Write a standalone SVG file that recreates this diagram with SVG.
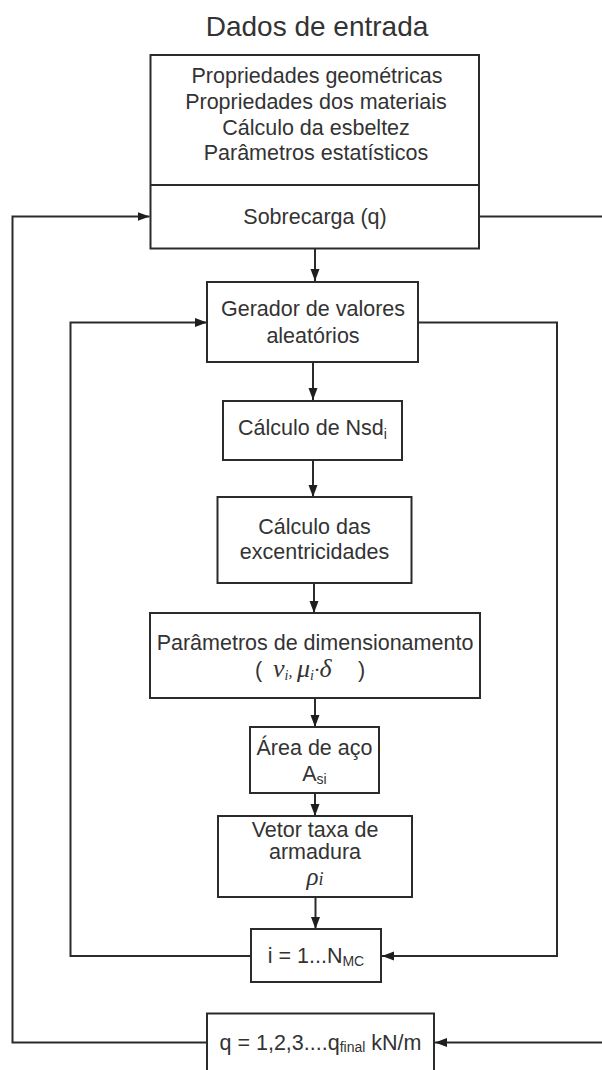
<svg xmlns="http://www.w3.org/2000/svg" width="602" height="1070" viewBox="0 0 602 1070">
<defs>
<style>
.box{fill:#fff;stroke:#2b2b2b;stroke-width:2}
.ln{fill:none;stroke:#2b2b2b;stroke-width:2}
text{font-family:"Liberation Sans",Arial,sans-serif;font-size:21.5px;fill:#333;text-anchor:middle}
.m{font-family:"Liberation Serif","DejaVu Serif",serif;font-style:italic}
.sub{font-size:14px}
</style>
<marker id="ah" markerWidth="13" markerHeight="10" refX="12" refY="4.5" orient="auto" markerUnits="userSpaceOnUse">
<path d="M0,0 L12,4.5 L0,9 z" fill="#1e1e1e"/>
</marker>
</defs>
<rect width="602" height="1070" fill="#fff"/>
<text x="317" y="36" style="font-size:28px">Dados de entrada</text>

<g id="connectors">
<line class="ln" x1="315" y1="248" x2="315" y2="281" marker-end="url(#ah)"/>
<line class="ln" x1="313" y1="362" x2="313" y2="400" marker-end="url(#ah)"/>
<line class="ln" x1="313" y1="460" x2="313" y2="497" marker-end="url(#ah)"/>
<line class="ln" x1="314" y1="583" x2="314" y2="613" marker-end="url(#ah)"/>
<line class="ln" x1="315" y1="698" x2="315" y2="727" marker-end="url(#ah)"/>
<line class="ln" x1="315" y1="793" x2="315" y2="816" marker-end="url(#ah)"/>
<line class="ln" x1="315.5" y1="897" x2="315.5" y2="929" marker-end="url(#ah)"/>
<polyline class="ln" points="251,956 70.5,956 70.5,322.5 207,322.5" marker-end="url(#ah)"/>
<polyline class="ln" points="418,322.5 557,322.5 557,956 382,956" marker-end="url(#ah)"/>
<polyline class="ln" points="207,1042.5 12.5,1042.5 12.5,216.5 149.5,216.5" marker-end="url(#ah)"/>
<polyline class="ln" points="479,216.5 608,216.5 608,1042.5 435,1042.5" marker-end="url(#ah)"/>
</g>

<g id="dados">
<rect class="box" x="150.5" y="55" width="328.5" height="193.5"/>
<line class="ln" x1="150.5" y1="185" x2="479" y2="185"/>
<text x="317" y="83">Propriedades  geométricas</text>
<text x="316" y="109">Propriedades dos materiais</text>
<text x="316" y="135">Cálculo da esbeltez</text>
<text x="316" y="160">Parâmetros estatísticos</text>
<text x="315" y="224">Sobrecarga (q)</text>
</g>

<g id="gerador">
<rect class="box" x="207" y="282" width="211" height="80"/>
<text x="313" y="315.5">Gerador de valores</text>
<text x="313" y="342.5">aleatórios</text>
</g>

<g id="nsd">
<rect class="box" x="223" y="401" width="179" height="59"/>
<text x="312.5" y="435">Cálculo de Nsd<tspan class="sub" dy="4">i</tspan></text>
</g>

<g id="excentricidades">
<rect class="box" x="217.5" y="497" width="194" height="86"/>
<text x="314.5" y="533.5">Cálculo das</text>
<text x="314.5" y="558.5">excentricidades</text>
</g>

<g id="parametros">
<rect class="box" x="150" y="613" width="330" height="85"/>
<text x="315" y="649.5">Parâmetros de dimensionamento</text>
<text y="677" style="text-anchor:start"><tspan x="255">(</tspan><tspan class="m" x="273" style="font-size:26px">ν</tspan><tspan class="m sub" dy="3">i</tspan><tspan class="m" dy="-3" style="font-size:16px">,</tspan><tspan class="m" x="297" style="font-size:26px">μ</tspan><tspan class="m sub" dy="3">i</tspan><tspan class="m" dy="-3" style="font-size:22px">·</tspan><tspan class="m" style="font-size:26px">δ</tspan><tspan x="358">)</tspan></text>
</g>

<g id="area">
<rect class="box" x="250" y="727" width="129" height="66"/>
<text x="314.5" y="754.5">Área de aço</text>
<text x="314.5" y="780.5">A<tspan class="sub" dy="3">si</tspan></text>
</g>

<g id="vetor">
<rect class="box" x="218" y="816" width="194" height="81"/>
<text x="315" y="837">Vetor taxa de</text>
<text x="315" y="859">armadura</text>
<text x="315" y="885" class="m" style="font-size:25px">ρ<tspan style="font-size:18px">i</tspan></text>
</g>

<g id="iloop">
<rect class="box" x="251" y="929" width="130" height="53"/>
<text x="316" y="963">i = 1...N<tspan class="sub" dy="3">MC</tspan></text>
</g>

<g id="qloop">
<rect class="box" x="207" y="1013.5" width="227" height="70"/>
<text x="320.5" y="1050">q = 1,2,3....q<tspan class="sub" dy="2">final</tspan><tspan dy="-2"> kN/m</tspan></text>
</g>
</svg>
